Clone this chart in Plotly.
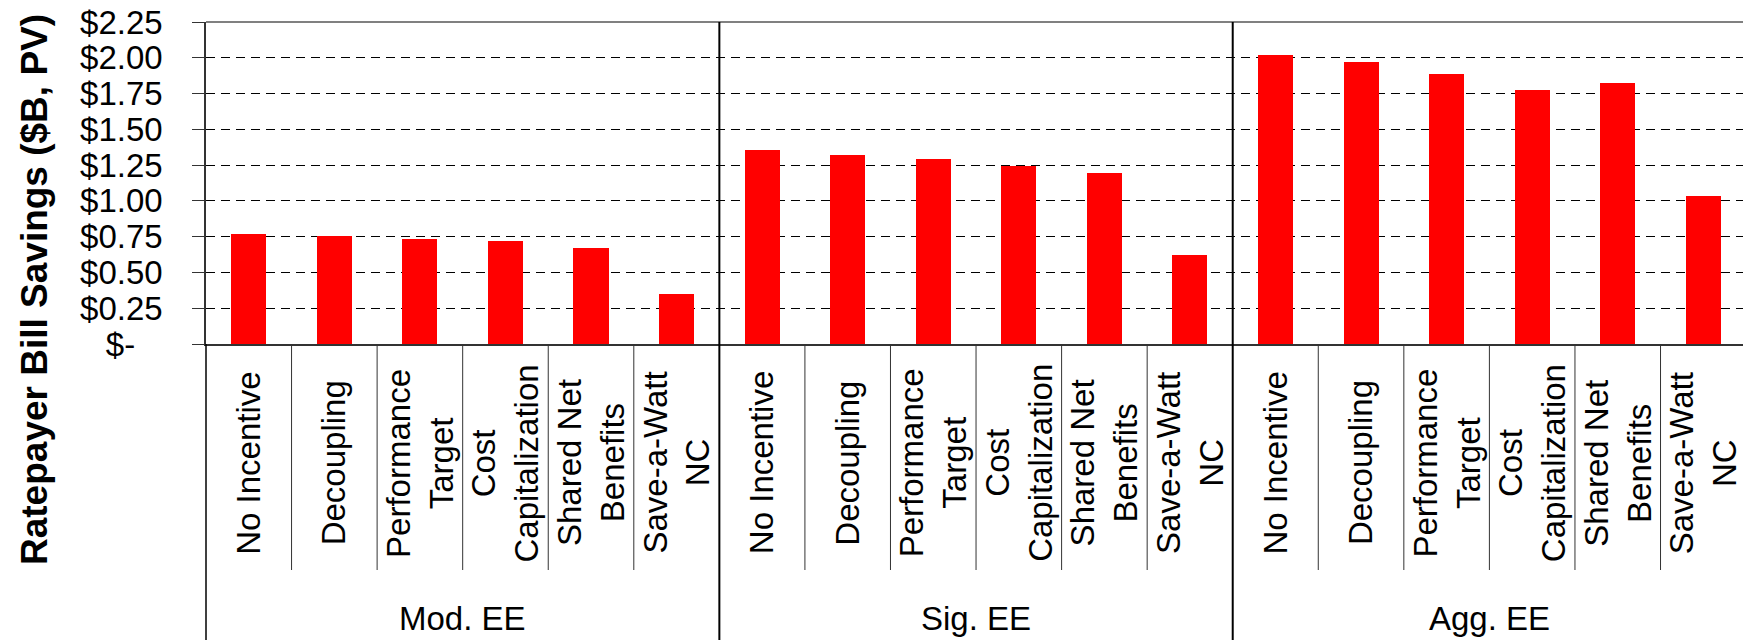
import plotly.graph_objects as go

# Scenario groups and utility incentive mechanisms
groups = ["Mod. EE", "Sig. EE", "Agg. EE"]
mechanisms = [
    "No Incentive",
    "Decoupling",
    "Performance<br>Target",
    "Cost<br>Capitalization",
    "Shared Net<br>Benefits",
    "Save-a-Watt<br>NC",
]

# Ratepayer bill savings ($B, present value)
mod_ee = [0.772, 0.758, 0.737, 0.723, 0.674, 0.352]
sig_ee = [1.353, 1.318, 1.290, 1.241, 1.192, 0.625]
agg_ee = [2.018, 1.969, 1.885, 1.773, 1.822, 1.031]

y_tick_vals = [0, 0.25, 0.5, 0.75, 1.0, 1.25, 1.5, 1.75, 2.0, 2.25]
y_tick_text = ["$-\u00a0\u00a0\u00a0", "$0.25", "$0.50", "$0.75", "$1.00",
               "$1.25", "$1.50", "$1.75", "$2.00", "$2.25"]

# ---- layout geometry ----
W, H = 1743, 640
M_L, M_R, M_T, M_B = 206, 0, 22, 296
PLOT_W = W - M_L - M_R
PLOT_H = H - M_T - M_B
CAT_PX = 85.56                      # width of one category slot
n_per = len(mechanisms)
n_all = n_per * len(groups)
x_lo = -0.5
x_hi = x_lo + PLOT_W / CAT_PX       # last slot runs slightly past the right edge

FONT = "Liberation Sans, Arial, Helvetica, sans-serif"


def paper_x(v):
    return (v - x_lo) / (x_hi - x_lo)


def paper_y(px):
    return (M_T + PLOT_H - px) / PLOT_H


series = [mod_ee, sig_ee, agg_ee]
xs, ys = [], []
for g, vals in enumerate(series):
    for i, v in enumerate(vals):
        xs.append(g * n_per + i)
        ys.append(v)

fig = go.Figure()
fig.add_trace(go.Bar(
    x=xs, y=ys, width=0.41,
    marker=dict(color="#FF0000", line=dict(width=0)),
    showlegend=False, hoverinfo="skip",
))

shapes = []
bottom = paper_y(H)
# plot frame top edge
shapes.append(dict(type="line", xref="paper", yref="paper", x0=0, x1=1, y0=1, y1=1,
                   line=dict(color="#808080", width=2), layer="above"))
# left axis line continued down through the label rows
shapes.append(dict(type="line", xref="paper", yref="paper", x0=0, x1=0, y0=0, y1=bottom,
                   line=dict(color="#000000", width=1.5), layer="above"))
# boundaries between categories / groups
for k in range(1, n_all):
    b = paper_x(k - 0.5)
    if k % n_per == 0:
        shapes.append(dict(type="line", xref="paper", yref="paper", x0=b, x1=b,
                           y0=1, y1=bottom,
                           line=dict(color="#000000", width=2), layer="above"))
    else:
        shapes.append(dict(type="line", xref="paper", yref="paper", x0=b, x1=b,
                           y0=0, y1=paper_y(570),
                           line=dict(color="#333333", width=1), layer="above"))

annotations = []
# mechanism labels, rotated
for g in range(len(groups)):
    for i, name in enumerate(mechanisms):
        annotations.append(dict(
            x=g * n_per + i, xref="x", y=paper_y(463), yref="paper",
            text=name, textangle=-90, showarrow=False,
            xanchor="center", yanchor="middle",
            font=dict(family=FONT, size=33, color="#000000"),
        ))
# group labels
for g, name in enumerate(groups):
    annotations.append(dict(
        x=g * n_per + (n_per - 1) / 2, xref="x", y=paper_y(618), yref="paper",
        text=name, showarrow=False, xanchor="center", yanchor="middle",
        font=dict(family=FONT, size=33, color="#000000"),
    ))
# value axis title
annotations.append(dict(
    x=(34 - M_L) / PLOT_W, xref="paper", y=paper_y(290), yref="paper",
    text="<b>Ratepayer Bill Savings ($B, PV)</b>", textangle=-90, showarrow=False,
    xanchor="center", yanchor="middle",
    font=dict(family=FONT, size=37, color="#000000"),
))

fig.update_layout(
    width=W, height=H, autosize=False,
    margin=dict(l=M_L, r=M_R, t=M_T, b=M_B, pad=0),
    paper_bgcolor="#FFFFFF", plot_bgcolor="#FFFFFF",
    font=dict(family=FONT, size=33, color="#000000"),
    bargap=0,
    shapes=shapes,
    annotations=annotations,
    xaxis=dict(
        range=[x_lo, x_hi], showticklabels=False, ticks="", showgrid=False,
        zeroline=False, showline=True, linecolor="#333333", linewidth=2,
    ),
    yaxis=dict(
        range=[0, 2.25], tickvals=y_tick_vals, ticktext=y_tick_text,
        ticks="outside", ticklen=12, tickcolor="#333333", tickwidth=1,
        showline=True, linecolor="#333333", linewidth=1.5,
        showgrid=True, gridcolor="#000000", gridwidth=1, griddash="9px,6px",
        zeroline=False, ticklabelstandoff=23,
        tickfont=dict(family=FONT, size=33, color="#000000"),
    ),
)

fig.write_html("out.html")
